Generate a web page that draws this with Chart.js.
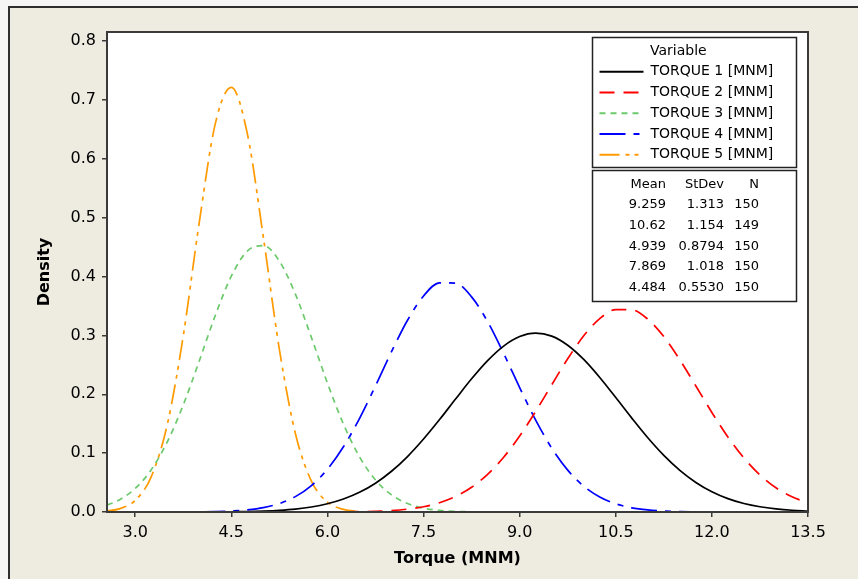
<!DOCTYPE html>
<html>
<head>
<meta charset="UTF-8" />
<title>Torque density</title>
<script src="https://cdn.jsdelivr.net/npm/chart.js@4.4.1/dist/chart.umd.min.js"></script>
<style>
  html, body { margin: 0; padding: 0; background: #f5f5f5; }
  #wrap { width: 858px; height: 579px; }
</style>
</head>
<body>
<div id="wrap"><canvas id="densChart" width="858" height="579"></canvas></div>
<script>
// torque grid (MNM) the density curves are read at
var torque = [2.56, 2.75, 3.0, 3.25, 3.5, 3.75, 4.0, 4.25, 4.5, 4.75,
  5.0, 5.25, 5.5, 5.75, 6.0, 6.25, 6.5, 6.75, 7.0, 7.25,
  7.5, 7.75, 8.0, 8.25, 8.5, 8.75, 9.0, 9.25, 9.5, 9.75,
  10.0, 10.25, 10.5, 10.75, 11.0, 11.25, 11.5, 11.75, 12.0, 12.25,
  12.5, 12.75, 13.0, 13.25, 13.5];

var torque1 = [null, null, null, null, null, null, null, null, 0.0004, 0.0008,
  0.0016, 0.0029, 0.0050, 0.0085, 0.0140, 0.0220, 0.0334, 0.0489, 0.0692, 0.0942,
  0.1239, 0.1570, 0.1919, 0.2262, 0.2571, 0.2818, 0.2980, 0.3038, 0.2988, 0.2833,
  0.2591, 0.2285, 0.1944, 0.1595, 0.1261, 0.0962, 0.0708, 0.0502, 0.0344, 0.0227,
  0.0144, 0.0089, 0.0053, 0.0030, 0.0017];

var torque2 = [null, null, null, null, null, null, null, null, null, null,
  null, null, null, null, null, 0.0003, 0.0006, 0.0012, 0.0025, 0.0049,
  0.0089, 0.0157, 0.0263, 0.0420, 0.0640, 0.0930, 0.1291, 0.1709, 0.2159, 0.2602,
  0.2993, 0.3284, 0.3439, 0.3435, 0.3275, 0.2979, 0.2585, 0.2141, 0.1691, 0.1275,
  0.0917, 0.0629, 0.0412, 0.0258, 0.0154];

var torque3 = [0.0117, 0.0205, 0.0399, 0.0717, 0.1189, 0.1819, 0.2565, 0.3338, 0.4005, 0.4433,
  0.4526, 0.4262, 0.3701, 0.2965, 0.2191, 0.1493, 0.0939, 0.0544, 0.0291, 0.0144,
  0.0065, 0.0027, 0.0011, 0.0004, null, null, null, null, null, null,
  null, null, null, null, null, null, null, null, null, null,
  null, null, null, null, null];

var torque4 = [null, null, null, null, null, null, 0.0003, 0.0007, 0.0016, 0.0036,
  0.0074, 0.0143, 0.0261, 0.0449, 0.0726, 0.1107, 0.1587, 0.2142, 0.2722, 0.3257,
  0.3670, 0.3892, 0.3887, 0.3654, 0.3234, 0.2695, 0.2114, 0.1562, 0.1086, 0.0711,
  0.0438, 0.0254, 0.0139, 0.0071, 0.0035, 0.0016, 0.0007, 0.0003, null, null,
  null, null, null, null, null];

var torque5 = [0.0017, 0.0053, 0.0197, 0.0598, 0.1481, 0.2990, 0.4919, 0.6596, 0.7211, 0.6426,
  0.4668, 0.2764, 0.1334, 0.0525, 0.0168, 0.0044, 0.0009, null, null, null,
  null, null, null, null, null, null, null, null, null, null,
  null, null, null, null, null, null, null, null, null, null,
  null, null, null, null, null];

var seriesNames = ["TORQUE 1 [MNM]", "TORQUE 2 [MNM]", "TORQUE 3 [MNM]", "TORQUE 4 [MNM]", "TORQUE 5 [MNM]"];
var means = ["9.259", "10.62", "4.939", "7.869", "4.484"];
var stdevs = ["1.313", "1.154", "0.8794", "1.018", "0.5530"];
var counts = ["150", "149", "150", "150", "150"];

var xTicks = [3.0, 4.5, 6.0, 7.5, 9.0, 10.5, 12.0, 13.5];
var yTicks = [0.0, 0.1, 0.2, 0.3, 0.4, 0.5, 0.6, 0.7, 0.8];

var FONT = "'DejaVu Sans', Verdana, sans-serif";
Chart.defaults.font.family = FONT;
Chart.defaults.color = '#000';

function pts(ys) {
  return torque.map(function (x, i) { return { x: x, y: ys[i] }; });
}

var styles = [
  { color: '#000000', dash: [] },
  { color: '#ff0000', dash: [15, 9] },
  { color: '#6cc96c', dash: [6, 5] },
  { color: '#0000ff', dash: [26, 8, 6, 8] },
  { color: '#ff9a00', dash: [20, 6, 4, 5, 4, 6] }
];
var allSeries = [torque1, torque2, torque3, torque4, torque5];

var datasets = allSeries.map(function (ys, i) {
  return {
    label: seriesNames[i],
    data: pts(ys),
    borderColor: styles[i].color,
    borderDash: styles[i].dash,
    borderWidth: 1.7,
    pointRadius: 0,
    fill: false,
    cubicInterpolationMode: 'monotone'
  };
});

// beige panel, white plot area, frame and the legend/stat boxes
var decor = {
  id: 'decor',
  beforeDraw: function (chart) {
    var ctx = chart.ctx, a = chart.chartArea;
    ctx.save();
    ctx.fillStyle = '#f5f5f5';
    ctx.fillRect(0, 0, chart.width, chart.height);
    ctx.fillStyle = '#eeebe1';
    ctx.fillRect(8, 6, chart.width - 8, chart.height - 6);
    ctx.strokeStyle = '#2e2e2e';
    ctx.lineWidth = 2;
    ctx.beginPath();
    ctx.moveTo(9, chart.height);
    ctx.lineTo(9, 7);
    ctx.lineTo(chart.width, 7);
    ctx.stroke();
    ctx.fillStyle = '#ffffff';
    ctx.fillRect(a.left, a.top, a.right - a.left, a.bottom - a.top);
    ctx.restore();
  },
  afterDraw: function (chart) {
    var ctx = chart.ctx, a = chart.chartArea;
    ctx.save();
    ctx.strokeStyle = '#3a3a3a';
    ctx.lineWidth = 2;
    ctx.strokeRect(a.left, a.top, a.right - a.left, a.bottom - a.top);

    var L = a.right - 215.5, T = a.top + 5.5, W = 204;
    ctx.fillStyle = '#fff';
    ctx.strokeStyle = '#222';
    ctx.lineWidth = 1.5;
    ctx.fillRect(L, T, W, 130);
    ctx.strokeRect(L, T, W, 130);
    ctx.fillRect(L, T + 133, W, 131);
    ctx.strokeRect(L, T + 133, W, 131);

    ctx.fillStyle = '#000';
    ctx.textBaseline = 'middle';
    ctx.font = '14px ' + FONT;
    ctx.textAlign = 'left';
    ctx.fillText('Variable', L + 57.5, T + 13.5);
    for (var i = 0; i < seriesNames.length; i++) {
      var y = T + 34.2 + 20.75 * i;
      ctx.beginPath();
      ctx.setLineDash(styles[i].dash);
      ctx.strokeStyle = styles[i].color;
      ctx.lineWidth = 2;
      ctx.moveTo(L + 7, y);
      ctx.lineTo(L + 51, y);
      ctx.stroke();
      ctx.setLineDash([]);
      ctx.fillText(seriesNames[i], L + 58, y);
    }

    ctx.font = '13px ' + FONT;
    ctx.textAlign = 'right';
    var hy = T + 147;
    ctx.fillText('Mean', L + 73.5, hy);
    ctx.fillText('StDev', L + 131.5, hy);
    ctx.fillText('N', L + 166.5, hy);
    for (var j = 0; j < means.length; j++) {
      var ry = T + 167.5 + 20.6 * j;
      ctx.fillText(means[j], L + 73.5, ry);
      ctx.fillText(stdevs[j], L + 131.5, ry);
      ctx.fillText(counts[j], L + 166.5, ry);
    }
    ctx.restore();
  }
};

new Chart(document.getElementById('densChart'), {
  type: 'line',
  data: { datasets: datasets },
  plugins: [decor],
  options: {
    responsive: false,
    animation: false,
    layout: { padding: { top: 32, right: 50, left: 0, bottom: 0 } },
    plugins: { legend: { display: false }, tooltip: { enabled: false } },
    scales: {
      x: {
        type: 'linear',
        min: 2.56,
        max: 13.5,
        afterBuildTicks: function (s) { s.ticks = xTicks.map(function (v) { return { value: v }; }); },
        afterFit: function (s) { s.height = 67; },
        ticks: {
          font: { size: 16 },
          padding: 6,
          maxRotation: 0,
          autoSkip: false,
          callback: function (v) { return Number(v).toFixed(1); }
        },
        grid: { drawOnChartArea: false, drawTicks: true, tickLength: 5, color: '#3a3a3a', lineWidth: 1.5 },
        border: { display: false },
        title: { display: true, text: 'Torque (MNM)', font: { size: 16, weight: 'bold' }, padding: { top: 0, bottom: 11 } }
      },
      y: {
        min: 0,
        max: 0.8153,
        afterBuildTicks: function (s) { s.ticks = yTicks.map(function (v) { return { value: v }; }); },
        afterFit: function (s) { s.width = 107; },
        ticks: {
          font: { size: 16 },
          padding: 6,
          callback: function (v) { return Number(v).toFixed(1); }
        },
        grid: { drawOnChartArea: false, drawTicks: true, tickLength: 5, color: '#3a3a3a', lineWidth: 1.5 },
        border: { display: false },
        title: { display: true, text: 'Density', font: { size: 16, weight: 'bold' }, padding: { top: 35, bottom: 0 } }
      }
    }
  }
});
</script>
</body>
</html>
